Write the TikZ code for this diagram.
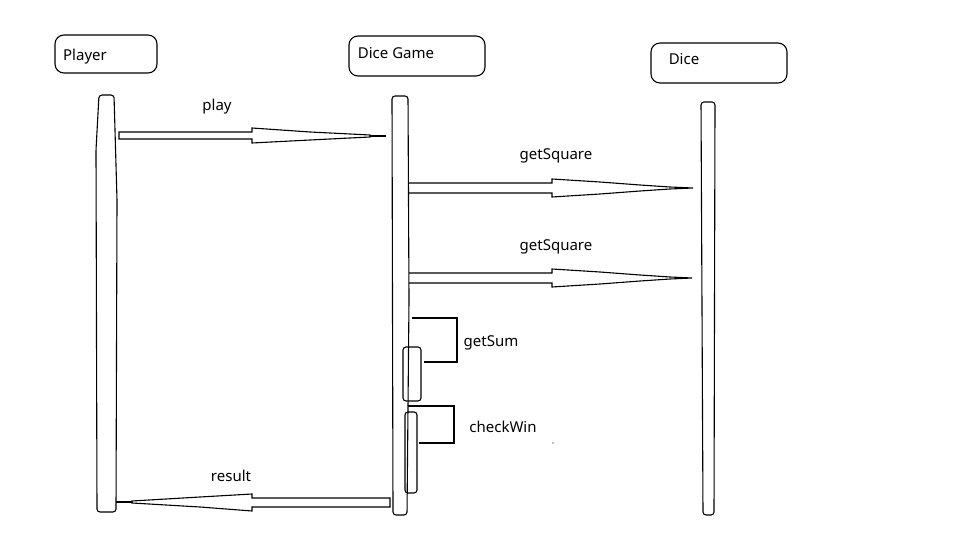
\documentclass[tikz,border=0pt]{standalone}
\usepackage{fontspec}
\setmainfont{Noto Sans}
\begin{document}
\begin{tikzpicture}[x=1pt,y=-1pt,line width=1.1pt,
  lbl/.style={font=\fontsize{15}{17}\selectfont,inner sep=0pt,anchor=base},
  headbox/.style={draw,rounded corners=9pt},
  life/.style={draw,rounded corners=3pt},
  msg/.style={draw,line join=miter},
  act/.style={draw,rounded corners=3pt}]
\useasboundingbox (0,0) rectangle (960,540);
% participant heads
\draw[headbox] (55,35) rectangle (157,73);
\node[lbl] (player) at (85,61) {Player};
\draw[headbox] (349,36) rectangle (485,76);
\node[lbl] (game) at (396,59) {Dice Game};
\draw[headbox] (651,43) rectangle (787,83);
\node[lbl] (dice) at (684,65) {Dice};
% lifelines
\draw[life] (97,512) -- (96,150) -- (99,95) -- (114,95) -- (117,200) -- (116,512) -- cycle;
\draw[life] (393,515) -- (392,96) -- (408,96) -- (409,300) -- (407,515) -- cycle;
\draw[life] (703,515) -- (701,102) -- (715,102) -- (714,515) -- cycle;
% play
\coordinate (pB) at (386,136);
\draw[msg] (119,132) -- (252,132) -- (252,128) -- (310,132) -- (370,135)
  -- (370,137) -- (310,140) -- (252,143) -- (252,139) -- (119,139) -- cycle;
\draw[line width=1.6pt] (370,136) -- (pB);
\node[lbl] (play) at (217,111) {play};
% getSquare 1
\draw[msg] (409,183) -- (552,183) -- (552,179) -- (600,182) -- (640,185) -- (670,187) -- (693,188)
  -- (670,189) -- (640,191) -- (600,194) -- (552,197) -- (552,193) -- (409,193);
\node[lbl] (gs1) at (556,160) {getSquare};
% getSquare 2
\draw[msg] (409,273) -- (552,273) -- (552,269) -- (600,272) -- (640,275) -- (670,277) -- (692,278)
  -- (670,279) -- (640,281) -- (600,284) -- (552,287) -- (552,283) -- (409,283);
\node[lbl] (gs2) at (556,250) {getSquare};
% getSum
\draw[act] (403,347) rectangle (421,401);
\draw (412,318) -- (457,318) -- (457,362) -- (424,362);
\node[lbl] (sum) at (491,346) {getSum};
% checkWin
\draw[act] (405,412) rectangle (417,493);
\draw (408,406) -- (454,406) -- (454,443) -- (419,443);
\node[lbl] (win) at (503,432) {checkWin};
\fill (553,443) circle (0.7);
% result
\draw[msg] (390,498) -- (252,498) -- (252,494) -- (200,497) -- (132,501)
  -- (132,503) -- (200,507) -- (252,511) -- (252,507) -- (390,507) -- cycle;
\draw[line width=1.6pt] (132,502) -- (116,502);
\node[lbl] (result) at (231,481) {result};
\end{tikzpicture}
\end{document}
